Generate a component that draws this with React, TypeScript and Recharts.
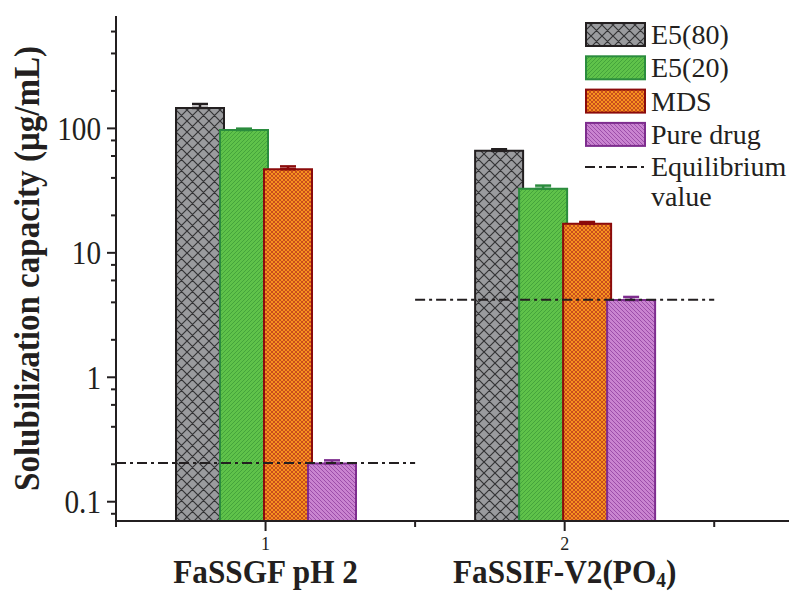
import React from 'react';
import {
  ComposedChart,
  Bar,
  ErrorBar,
  XAxis,
  YAxis,
  ReferenceLine,
  Legend,
} from 'recharts';

// media (x positions) and their names
const categoryPos = [1, 2];
const categories = ['FaSSGF pH 2', 'FaSSIF-V2(PO4)'];

// solubilization capacity, µg/mL (upper error only)
const e580 = [146, 66];
const e580Err = [11, 2];
const e520 = [97, 32.7];
const e520Err = [2.5, 2];
const mds = [47, 17.1];
const mdsErr = [2.5, 0.6];
const pureDrug = [0.203, 4.17];
const pureDrugErr = [0.012, 0.25];
const equilibrium = [0.205, 4.2];

const seriesNames = ['E5(80)', 'E5(20)', 'MDS', 'Pure drug'];

const yMajorTicks = [0.1, 1, 10, 100];
const yMinorTicks = [0.08, 0.2, 0.4, 0.6, 0.8, 2, 4, 6, 8, 20, 40, 60, 80, 200, 400, 600];
const xMinorTicks = [0.5, 1.5, 2.5];

const INK = '#231f20';
const FONT = '"Liberation Serif", "Times New Roman", serif';

const seriesStyle = [
  { key: 'e580', fill: 'url(#patGray)', stroke: INK },
  { key: 'e520', fill: 'url(#patGreen)', stroke: '#2b8c3e' },
  { key: 'mds', fill: 'url(#patOrange)', stroke: '#8b0b0b' },
  { key: 'pure', fill: 'url(#patPurple)', stroke: '#7e2d8e' },
];

const data = categoryPos.map((x, i) => ({
  x,
  e580: e580[i],
  e580Err: [0, e580Err[i]],
  e520: e520[i],
  e520Err: [0, e520Err[i]],
  mds: mds[i],
  mdsErr: [0, mdsErr[i]],
  pure: pureDrug[i],
  pureErr: [0, pureDrugErr[i]],
}));

const Patterns = () => (
  <svg width={0} height={0} style={{ position: 'absolute' }}>
    <defs>
      <pattern id="patGray" width="11" height="11" patternUnits="userSpaceOnUse">
        <rect width="11" height="11" fill="#9a9b9e" />
        <path d="M0,0 L11,11 M11,0 L0,11 M-1,10 L1,12 M10,-1 L12,1 M-1,1 L1,-1 M10,12 L12,10" stroke="#333335" strokeWidth="1.2" />
      </pattern>
      <pattern id="patGreen" width="4" height="4" patternUnits="userSpaceOnUse">
        <rect width="4" height="4" fill="#5fc24a" />
        <path d="M0,4 L4,0 M-1,1 L1,-1 M3,5 L5,3" stroke="#42a03a" strokeWidth="0.9" />
      </pattern>
      <pattern id="patOrange" width="4" height="4" patternUnits="userSpaceOnUse">
        <rect width="4" height="4" fill="#f7931f" />
        <path d="M0,0 L4,4 M4,0 L0,4" stroke="#b3321c" strokeWidth="0.7" />
      </pattern>
      <pattern id="patPurple" width="4" height="4" patternUnits="userSpaceOnUse">
        <rect width="4" height="4" fill="#c984d0" />
        <path d="M0,0 L4,4 M-1,3 L1,5 M3,-1 L5,1" stroke="#9848a6" strokeWidth="0.9" />
      </pattern>
    </defs>
  </svg>
);

const CategoryLabel = ({ x, y, name }: { x: number; y: number; name: string }) => {
  const m = name.match(/^(.*PO)(\d)(\))$/);
  return (
    <g transform={`translate(${x},${y}) scale(0.92,1)`}>
      <text x={0} y={0} textAnchor="middle" fontFamily={FONT} fontWeight="bold" fontSize={34} fill={INK}>
        {m ? (
          <>
            <tspan>{m[1]}</tspan>
            <tspan fontSize={21} dy={4}>{m[2]}</tspan>
            <tspan dy={-4}>{m[3]}</tspan>
          </>
        ) : (
          name
        )}
      </text>
    </g>
  );
};

const XTick = (props: any) => {
  const { x, y, payload } = props;
  const idx = categoryPos.indexOf(payload.value);
  const major = idx >= 0;
  return (
    <g>
      <line x1={x} x2={x} y1={y} y2={y + (major ? 10 : 6)} stroke={INK} strokeWidth={2} />
      {major && (
        <text x={x} y={y + 29} textAnchor="middle" fontFamily={FONT} fontSize={18} fill={INK}>
          {payload.value}
        </text>
      )}
      {major && <CategoryLabel x={x} y={y + 62} name={categories[idx]} />}
    </g>
  );
};

const YTick = (props: any) => {
  const { x, y, payload } = props;
  const major = yMajorTicks.includes(payload.value);
  return (
    <g>
      <line x1={x - (major ? 9 : 5)} x2={x + 1} y1={y} y2={y} stroke={INK} strokeWidth={2} />
      {major && (
        <g transform={`translate(${x - 15},${y}) scale(0.86,1)`}>
          <text x={0} y={0} textAnchor="end" dominantBaseline="central" fontFamily={FONT} fontSize={34} fill={INK}>
            {payload.value}
          </text>
        </g>
      )}
    </g>
  );
};

const YLabel = (props: any) => {
  const { viewBox } = props;
  const cx = 39;
  const cy = viewBox.y + viewBox.height / 2;
  return (
    <g transform={`translate(${cx},${cy}) rotate(-90) scale(0.945,1)`}>
      <text x={0} y={0} textAnchor="middle" fontFamily={FONT} fontWeight="bold" fontSize={35} fill={INK}>
        Solubilization capacity (μg/mL)
      </text>
    </g>
  );
};

const LegendBox = () => (
  <svg width={209} height={210}>
    {seriesNames.map((name, i) => (
      <g key={name}>
        <rect x={6} y={9 + i * 33.3} width={59} height={23} fill={seriesStyle[i].fill} stroke={seriesStyle[i].stroke} strokeWidth={2} />
        <text x={71} y={30 + i * 33.3} fontFamily={FONT} fontSize={28} fill={INK}>
          {name}
        </text>
      </g>
    ))}
    <line x1={5} x2={66} y1={153} y2={153} stroke={INK} strokeWidth={2} strokeDasharray="10 4 3 4" />
    <text x={71} y={162} fontFamily={FONT} fontSize={28} fill={INK}>Equilibrium</text>
    <text x={71} y={192} fontFamily={FONT} fontSize={28} fill={INK}>value</text>
  </svg>
);

export default function App() {
  return (
    <div style={{ position: 'absolute', left: 0, top: 0, width: 789, height: 595, background: '#fff' }}>
      <Patterns />
      <ComposedChart
        width={789}
        height={595}
        data={data}
        margin={{ top: 16, right: 0, bottom: 0, left: 0 }}
        barSize={48}
        barGap={-4}
      >
        <XAxis
          dataKey="x"
          type="number"
          domain={[0.5, 2.75]}
          allowDataOverflow
          ticks={[...xMinorTicks, ...categoryPos].sort((a, b) => a - b)}
          interval={0}
          height={74}
          tickSize={0}
          tickMargin={0}
          tickLine={false}
          axisLine={{ stroke: INK, strokeWidth: 2 }}
          tick={<XTick />}
        />
        <YAxis
          type="number"
          scale="log"
          domain={[0.07, 800]}
          allowDataOverflow
          ticks={[...yMinorTicks, ...yMajorTicks].sort((a, b) => a - b)}
          interval={0}
          width={116}
          tickSize={0}
          tickMargin={0}
          tickLine={false}
          axisLine={{ stroke: INK, strokeWidth: 2 }}
          tick={<YTick />}
          label={{ content: <YLabel /> }}
        />
        {seriesStyle.map((s) => (
          <Bar
            key={s.key}
            dataKey={s.key}
            fill={s.fill}
            stroke={s.stroke}
            strokeWidth={2}
            isAnimationActive={false}
          >
            <ErrorBar dataKey={`${s.key}Err`} direction="y" width={8} strokeWidth={2.5} stroke={s.stroke} isAnimationActive={false} />
          </Bar>
        ))}
        {categoryPos.map((x, i) => (
          <ReferenceLine
            key={`eq-${x}`}
            segment={[
              { x: x - 0.5, y: equilibrium[i] },
              { x: x + 0.5, y: equilibrium[i] },
            ]}
            stroke={INK}
            strokeWidth={2}
            strokeDasharray="10 4 3 4"
          />
        ))}
        <Legend
          layout="vertical"
          align="center"
          verticalAlign="middle"
          content={<LegendBox />}
          wrapperStyle={{ position: 'absolute', left: 580, top: 14, width: 209, height: 210 }}
        />
      </ComposedChart>
    </div>
  );
}
